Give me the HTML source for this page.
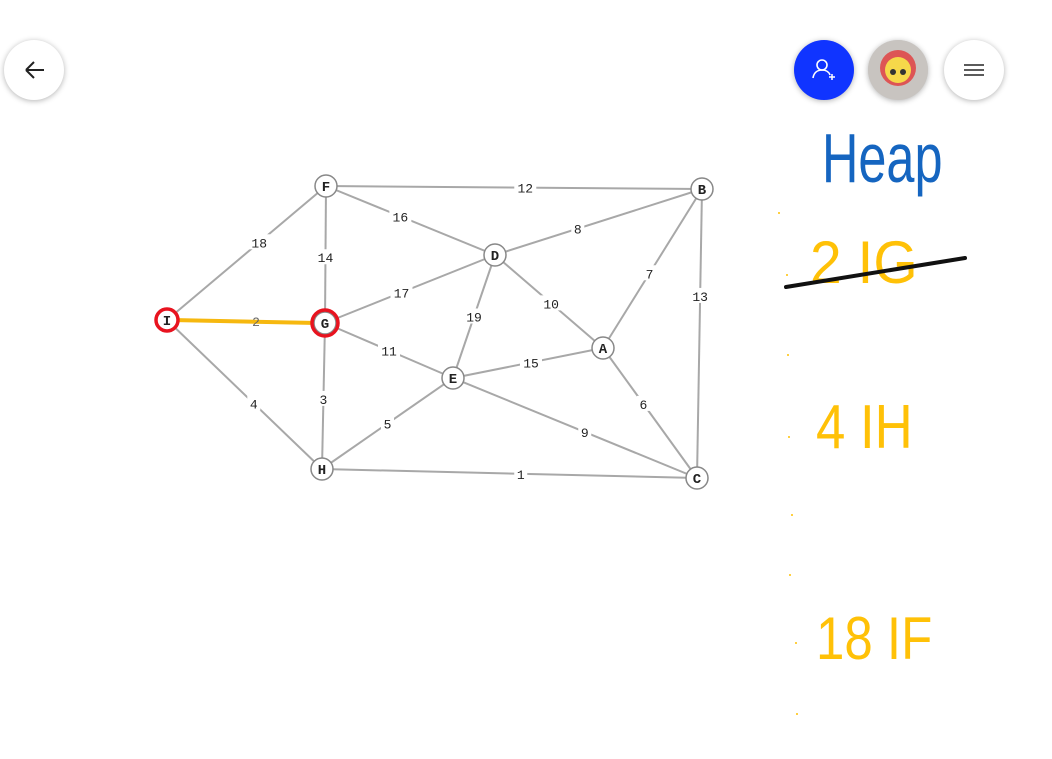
<!DOCTYPE html>
<html><head><meta charset="utf-8"><style>
html,body{margin:0;padding:0;background:#fff;width:1052px;height:759px;overflow:hidden;font-family:"Liberation Sans",sans-serif}
.btn{position:absolute;width:60px;height:60px;border-radius:50%;background:#fff;box-shadow:0 1px 6px rgba(0,0,0,.3)}
.hw{position:absolute;font-family:"Liberation Sans",sans-serif;font-weight:300;transform-origin:0 0;white-space:nowrap}
</style></head><body>
<div class="btn" style="left:4px;top:40px">
<svg width="60" height="60"><path d="M22 30h18M22 30l8-8M22 30l8 8" stroke="#222" stroke-width="2" fill="none"/></svg></div>
<div class="btn" style="left:794px;top:40px;background:#1034ff">
<svg width="60" height="60"><circle cx="28" cy="25" r="5" stroke="#fff" stroke-width="1.6" fill="none"/><path d="M19 38c1-6 5-8 9-8s7 2 8 5" stroke="#fff" stroke-width="1.6" fill="none"/><path d="M35 37h6M38 34v6" stroke="#fff" stroke-width="1.5"/></svg></div>
<div class="btn" style="left:868px;top:40px;background:#ccc">
<svg width="60" height="60"><circle cx="30" cy="30" r="30" fill="#c8c4c0"/><circle cx="30" cy="28" r="18" fill="#d55"/><circle cx="30" cy="30" r="13" fill="#f6d84a"/><circle cx="25" cy="32" r="3" fill="#333"/><circle cx="35" cy="32" r="3" fill="#333"/></svg></div>
<div class="btn" style="left:944px;top:40px">
<svg width="60" height="60"><path d="M20 25h20M20 30h20M20 35h20" stroke="#444" stroke-width="1.8"/></svg></div>

<svg id="g" width="1052" height="759" style="position:absolute;left:0;top:0"></svg>

<div class="hw" style="left:822px;top:118px;font-size:70px;color:#1565c0;transform:scaleX(0.72)">Heap</div>
<div class="hw" style="left:810px;top:228px;font-size:60px;color:#ffc107;transform:scaleX(0.95)">2 IG</div>
<svg width="1052" height="759" style="position:absolute;left:0;top:0;pointer-events:none"><path d="M786 287 L965 258" stroke="#111" stroke-width="4" stroke-linecap="round"/>
<g fill="#ffc107"><circle cx="779" cy="213" r="1"/><circle cx="787" cy="275" r="1"/><circle cx="788" cy="355" r="1"/><circle cx="789" cy="437" r="1"/><circle cx="792" cy="515" r="1"/><circle cx="790" cy="575" r="1"/><circle cx="796" cy="643" r="1"/><circle cx="797" cy="714" r="1"/></g></svg>
<div class="hw" style="left:816px;top:392px;font-size:62px;color:#ffc107;transform:scaleX(0.85)">4 IH</div>
<div class="hw" style="left:816px;top:604px;font-size:60px;color:#ffc107;transform:scaleX(0.85)">18 IF</div>

<script>
const nodeNames=['F','B','D','I','G','A','E','H','C'];
const nodeX=[326,702,495,167,325,603,453,322,697];
const nodeY=[186,189,255,320,323,348,378,469,478];
const edgeFrom=['F','F','B','I','F','D','B','B','D','D','G','E','A','I','G','H','E','H'];
const edgeTo=  ['B','D','D','F','G','G','A','C','A','E','E','A','C','H','H','E','C','C'];
const edgeW=   [12,16,8,18,14,17,7,13,10,19,11,15,6,4,3,5,9,1];
const labelT=  [0.53,0.44,0.6,0.58,0.52,0.55,0.53,0.37,0.52,0.5,0.5,0.52,0.43,0.56,0.52,0.5,0.54,0.53];
const NS='http://www.w3.org/2000/svg';
const svg=document.getElementById('g');
const P=n=>{const i=nodeNames.indexOf(n);return [nodeX[i],nodeY[i]];};
function mk(t,a){const e=document.createElementNS(NS,t);for(const k in a)e.setAttribute(k,a[k]);svg.appendChild(e);return e;}
edgeFrom.forEach((f,i)=>{const [x1,y1]=P(f),[x2,y2]=P(edgeTo[i]);
const l=mk('line',{x1,y1,x2,y2,stroke:'#a8a8a8','stroke-width':2});

});
edgeFrom.forEach((f,i)=>{const [x1,y1]=P(f),[x2,y2]=P(edgeTo[i]);const t0=labelT[i];const mx=x1+(x2-x1)*t0,my=y1+(y2-y1)*t0;
const s=String(edgeW[i]);
mk('rect',{x:mx-s.length*4.5-2,y:my-8,width:s.length*9+4,height:15,fill:'#fff'});
const t=mk('text',{x:mx,y:my+5,'text-anchor':'middle','font-family':'Liberation Mono, monospace','font-size':13,fill:'#222'});
t.textContent=s;

});
const [ix,iy]=P('I'),[gx,gy]=P('G');
const hl=mk('line',{x1:ix+5,y1:iy,x2:gx-8,y2:gy,stroke:'#f6b80f','stroke-width':4,'stroke-linecap':'round'});


const w2=mk('text',{x:256,y:326,'text-anchor':'middle','font-family':'Liberation Mono, monospace','font-size':13,fill:'#666'});w2.textContent='2';
nodeNames.forEach((n,i)=>{
const c=mk('circle',{cx:nodeX[i],cy:nodeY[i],r:11,fill:'#fff',stroke:'#888','stroke-width':1.5});


const t=mk('text',{x:nodeX[i],y:nodeY[i]+5,'text-anchor':'middle','font-family':'Liberation Mono, monospace','font-weight':'bold','font-size':14,fill:'#222'});
t.textContent=n;

});
['I','G'].forEach(n=>{const [x,y]=P(n);const r=mk('circle',{cx:x,cy:y,r:n=='G'?13:11,fill:'none',stroke:'#e8131f','stroke-width':3.5});

});
</script>
</body></html>
